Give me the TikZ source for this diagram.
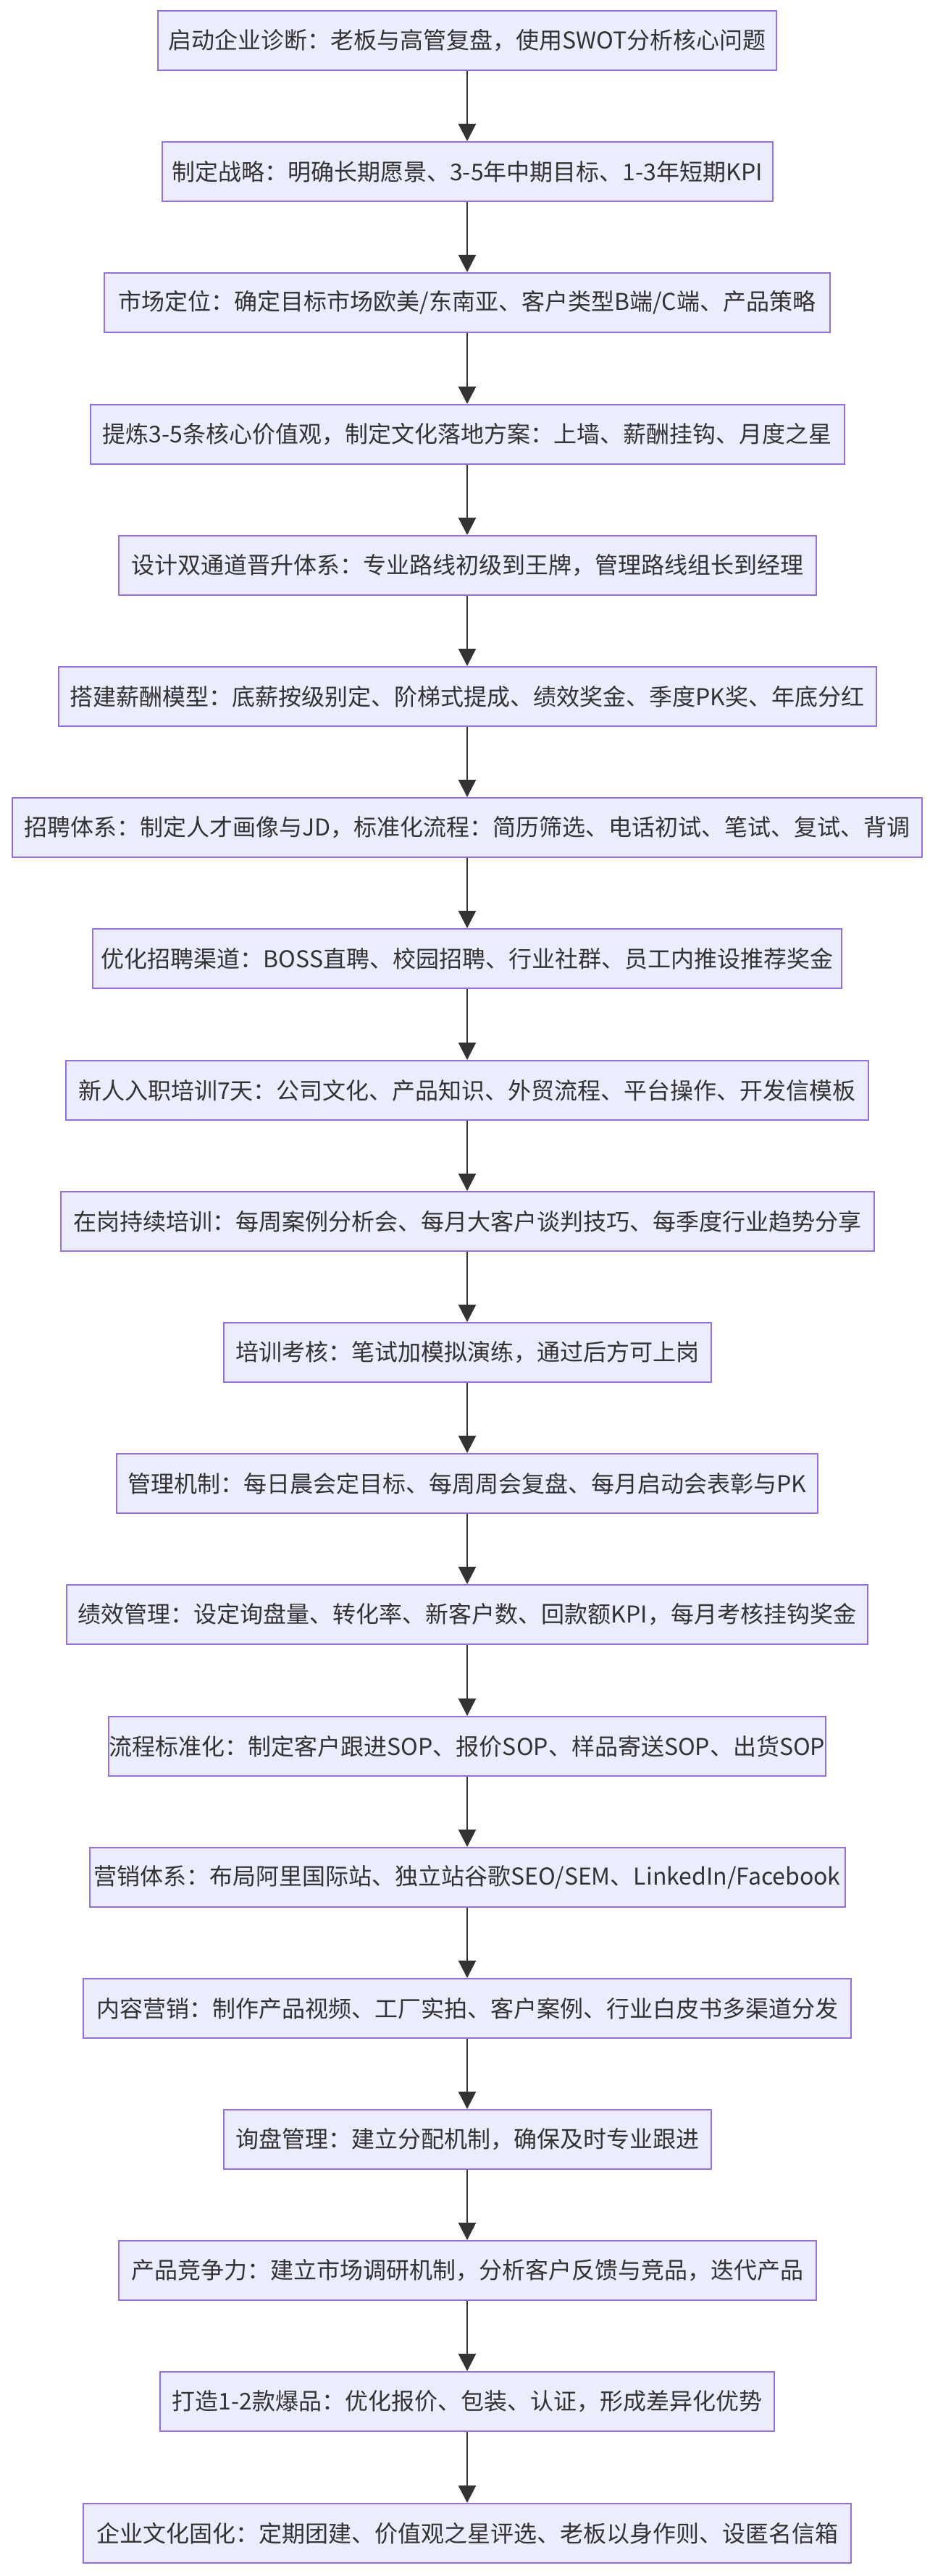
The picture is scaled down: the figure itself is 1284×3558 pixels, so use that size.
\documentclass[tikz,border=0pt]{standalone}
\usepackage{fontspec}
\setmainfont{Noto Sans CJK SC}
\usetikzlibrary{arrows.meta}
\definecolor{boxfill}{HTML}{ECECFF}
\definecolor{boxline}{HTML}{9370DB}
\definecolor{ink}{HTML}{333333}
\tikzset{
  px/.style={x=0.5pt,y=-0.5pt},
  stepbox/.style={draw=boxline, fill=boxfill, line width=1pt, text=ink,
    font=\fontsize{16pt}{19pt}\selectfont, inner sep=0pt,
    minimum height=41pt, align=center},
  bw/.style={minimum width=#1*0.5pt},
  flow/.style={draw=ink, line width=1.3pt, -{Triangle[length=12pt,width=12pt]}}
}
\begin{document}
\begin{tikzpicture}[px]
\useasboundingbox (0,0) rectangle (1284,3558);
\node[stepbox,bw=854]  (b1)  at (645,56)   {启动企业诊断：老板与高管复盘，使用SWOT分析核心问题};
\node[stepbox,bw=843]  (b2)  at (645,237)  {制定战略：明确长期愿景、3-5年中期目标、1-3年短期KPI};
\node[stepbox,bw=1002] (b3)  at (645,418)  {市场定位：确定目标市场欧美/东南亚、客户类型B端/C端、产品策略};
\node[stepbox,bw=1041] (b4)  at (645,600)  {提炼3-5条核心价值观，制定文化落地方案：上墙、薪酬挂钩、月度之星};
\node[stepbox,bw=963]  (b5)  at (645,781)  {设计双通道晋升体系：专业路线初级到王牌，管理路线组长到经理};
\node[stepbox,bw=1129] (b6)  at (645,962)  {搭建薪酬模型：底薪按级别定、阶梯式提成、绩效奖金、季度PK奖、年底分红};
\node[stepbox,bw=1256] (b7)  at (645,1143) {招聘体系：制定人才画像与JD，标准化流程：简历筛选、电话初试、笔试、复试、背调};
\node[stepbox,bw=1034] (b8)  at (645,1324) {优化招聘渠道：BOSS直聘、校园招聘、行业社群、员工内推设推荐奖金};
\node[stepbox,bw=1108] (b9)  at (645,1506) {新人入职培训7天：公司文化、产品知识、外贸流程、平台操作、开发信模板};
\node[stepbox,bw=1123] (b10) at (645,1687) {在岗持续培训：每周案例分析会、每月大客户谈判技巧、每季度行业趋势分享};
\node[stepbox,bw=673]  (b11) at (645,1868) {培训考核：笔试加模拟演练，通过后方可上岗};
\node[stepbox,bw=968]  (b12) at (645,2049) {管理机制：每日晨会定目标、每周周会复盘、每月启动会表彰与PK};
\node[stepbox,bw=1106] (b13) at (645,2230) {绩效管理：设定询盘量、转化率、新客户数、回款额KPI，每月考核挂钩奖金};
\node[stepbox,bw=990]  (b14) at (645,2412) {流程标准化：制定客户跟进SOP、报价SOP、样品寄送SOP、出货SOP};
\node[stepbox,bw=1043] (b15) at (645,2593) {营销体系：布局阿里国际站、独立站谷歌SEO/SEM、LinkedIn/Facebook};
\node[stepbox,bw=1060] (b16) at (645,2774) {内容营销：制作产品视频、工厂实拍、客户案例、行业白皮书多渠道分发};
\node[stepbox,bw=673]  (b17) at (645,2955) {询盘管理：建立分配机制，确保及时专业跟进};
\node[stepbox,bw=963]  (b18) at (645,3136) {产品竞争力：建立市场调研机制，分析客户反馈与竞品，迭代产品};
\node[stepbox,bw=848]  (b19) at (645,3317) {打造1-2款爆品：优化报价、包装、认证，形成差异化优势};
\node[stepbox,bw=1060] (b20) at (645,3499) {企业文化固化：定期团建、价值观之星评选、老板以身作则、设匿名信箱};
\foreach \i [evaluate=\i as \j using int(\i+1)] in {1,...,19}
  \draw[flow] (b\i) -- (b\j);
\end{tikzpicture}
\end{document}
